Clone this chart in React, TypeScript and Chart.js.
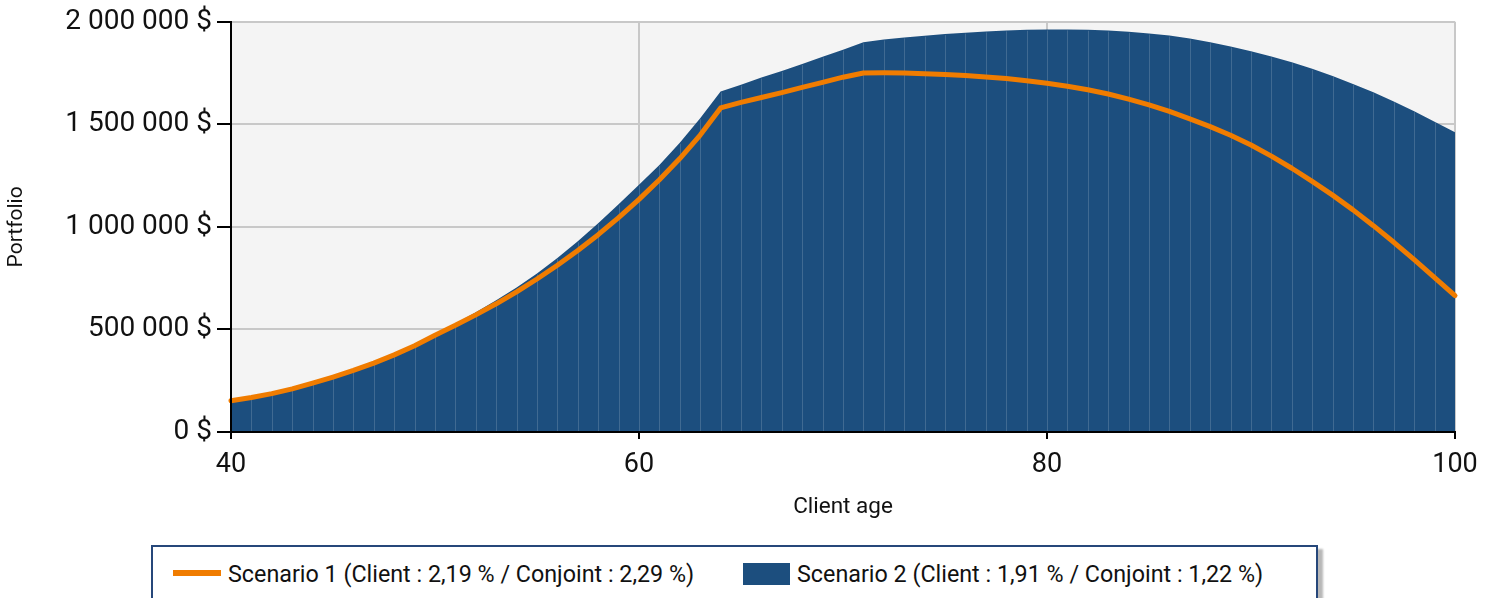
import React, { useEffect, useRef } from 'react';
import { Chart, registerables } from 'chart.js';

Chart.register(...registerables);

const ages = [
  40, 41, 42, 43, 44, 45, 46, 47, 48, 49,
  50, 51, 52, 53, 54, 55, 56, 57, 58, 59,
  60, 61, 62, 63, 64, 65, 66, 67, 68, 69,
  70, 71, 72, 73, 74, 75, 76, 77, 78, 79,
  80, 81, 82, 83, 84, 85, 86, 87, 88, 89,
  90, 91, 92, 93, 94, 95, 96, 97, 98, 99,
  100,
];

const scenario1 = [
  152000, 168000, 187000, 210000, 238000, 268000, 300000, 336000, 376000, 421000,
  472000, 520000, 571000, 625000, 683000, 746000, 813000, 885000, 962000, 1045000,
  1134000, 1230000, 1333000, 1448000, 1580000, 1607000, 1631000, 1655000, 1680000, 1705000,
  1730000, 1750000, 1751000, 1750000, 1747000, 1743000, 1738000, 1731000, 1723000, 1713000,
  1700000, 1686000, 1669000, 1648000, 1623000, 1595000, 1563000, 1527000, 1489000, 1447000,
  1399000, 1345000, 1286000, 1222000, 1155000, 1083000, 1006000, 925000, 840000, 753000,
  665000,
];

const scenario2 = [
  146000, 163000, 183000, 207000, 235000, 265000, 298000, 336000, 377000, 424000,
  477000, 529000, 584000, 642000, 705000, 773000, 848000, 930000, 1018000, 1110000,
  1205000, 1302000, 1410000, 1530000, 1660000, 1693000, 1728000, 1760000, 1794000, 1830000,
  1864000, 1900000, 1914000, 1924000, 1932000, 1940000, 1947000, 1953000, 1958000, 1961000,
  1963000, 1963000, 1961000, 1957000, 1951000, 1943000, 1933000, 1918000, 1900000, 1879000,
  1856000, 1831000, 1803000, 1771000, 1736000, 1697000, 1656000, 1612000, 1564000, 1513000,
  1461000,
];

const xTicks = [40, 60, 80, 100];
const yTicks = [0, 500000, 1000000, 1500000, 2000000];

const seriesLabels = [
  'Scenario 1 (Client : 2,19 % / Conjoint : 2,29 %)',
  'Scenario 2 (Client : 1,91 % / Conjoint : 1,22 %)',
];
const xTitle = 'Client age';
const yTitle = 'Portfolio';

const ORANGE = '#f07c00';
const BLUE = '#1c4e7e';
const FONT = 'Roboto, "Liberation Sans", Arial, sans-serif';

const fmtMoney = (v: number) =>
  String(Math.round(v)).replace(/\B(?=(\d{3})+(?!\d))/g, ' ') + ' $';

const bgPlugin = {
  id: 'plotBg',
  beforeDraw(chart: any) {
    const { ctx, chartArea } = chart;
    ctx.save();
    ctx.fillStyle = '#f4f4f4';
    ctx.fillRect(chartArea.left, chartArea.top, chartArea.right - chartArea.left, chartArea.bottom - chartArea.top);
    ctx.restore();
  },
};

const stripesPlugin = {
  id: 'stripes',
  afterDatasetDraw(chart: any, args: any) {
    if (args.index !== 0) return;
    const { ctx } = chart;
    const meta = args.meta;
    const base = chart.scales.y.getPixelForValue(0);
    ctx.save();
    ctx.strokeStyle = 'rgba(255,255,255,0.16)';
    ctx.lineWidth = 1;
    for (let i = 1; i < meta.data.length - 1; i++) {
      const p = meta.data[i];
      const x = Math.round(p.x) + 0.5;
      ctx.beginPath();
      ctx.moveTo(x, p.y + 1);
      ctx.lineTo(x, base);
      ctx.stroke();
    }
    ctx.restore();
  },
};

const axesPlugin = {
  id: 'axesOnTop',
  afterDatasetsDraw(chart: any) {
    const { ctx, chartArea } = chart;
    ctx.save();
    ctx.strokeStyle = '#000';
    ctx.lineWidth = 2;
    ctx.beginPath();
    ctx.moveTo(chartArea.left, chartArea.top);
    ctx.lineTo(chartArea.left, chartArea.bottom + 1);
    ctx.moveTo(chartArea.left - 1, chartArea.bottom);
    ctx.lineTo(chartArea.right, chartArea.bottom);
    ctx.stroke();
    ctx.restore();
  },
};

function ChartView() {
  const ref = useRef<HTMLCanvasElement | null>(null);
  useEffect(() => {
    if (!ref.current) return;
    const chart = new Chart(ref.current, {
      type: 'line',
      data: {
        datasets: [
          {
            label: seriesLabels[1],
            data: ages.map((a, i) => ({ x: a, y: scenario2[i] })),
            borderWidth: 0,
            borderColor: BLUE,
            backgroundColor: BLUE,
            fill: 'origin',
            pointRadius: 0,
            tension: 0,
            order: 2,
          },
          {
            label: seriesLabels[0],
            data: ages.map((a, i) => ({ x: a, y: scenario1[i] })),
            borderWidth: 5,
            borderColor: ORANGE,
            backgroundColor: ORANGE,
            fill: false,
            pointRadius: 0,
            tension: 0,
            borderCapStyle: 'round',
            borderJoinStyle: 'round',
            clip: false,
            order: 1,
          },
        ] as any,
      },
      options: {
        responsive: false,
        animation: false,
        layout: { padding: { top: 20, right: 39, left: 0, bottom: 0 } },
        plugins: { legend: { display: false }, tooltip: { enabled: false } },
        scales: {
          x: {
            type: 'linear',
            min: 40,
            max: 100,
            afterFit: (s: any) => { s.height = 113; },
            afterBuildTicks: (s: any) => { s.ticks = xTicks.map((v) => ({ value: v })); },
            ticks: { font: { family: FONT, size: 27 }, color: '#111', padding: 10, maxRotation: 0 },
            grid: { color: '#c8c8c8', lineWidth: 2, tickColor: '#000', tickLength: 7, tickWidth: 2 },
            border: { color: '#000', width: 2 },
            title: { display: true, text: xTitle, font: { family: FONT, size: 22.5 }, color: '#111', padding: { top: 0, bottom: 24 } },
          },
          y: {
            type: 'linear',
            min: 0,
            max: 2000000,
            afterFit: (s: any) => { s.width = 231; },
            afterBuildTicks: (s: any) => { s.ticks = yTicks.map((v) => ({ value: v })); },
            ticks: { callback: (v: any) => fmtMoney(Number(v)), font: { family: FONT, size: 28 }, color: '#111', padding: 5 },
            grid: { color: '#c8c8c8', lineWidth: 2, tickColor: '#000', tickLength: 14, tickWidth: 2 },
            border: { color: '#000', width: 2 },
            title: { display: true, text: yTitle, font: { family: FONT, size: 21 }, color: '#111', padding: { top: 4, bottom: 0 } },
          },
        },
      } as any,
      plugins: [bgPlugin, stripesPlugin, axesPlugin],
    });
    return () => chart.destroy();
  }, []);
  return <canvas ref={ref} width={1494} height={545} style={{ display: 'block' }} />;
}

export default function App() {
  const textStyle: React.CSSProperties = {
    position: 'absolute',
    fontFamily: FONT,
    fontSize: 23.3,
    lineHeight: '24px',
    color: '#111',
    whiteSpace: 'nowrap',
  };
  return (
    <div style={{ position: 'fixed', left: 0, top: 0, width: 1494, height: 598, background: '#fff', overflow: 'hidden' }}>
      <ChartView />
      <div
        style={{
          position: 'absolute',
          left: 151,
          top: 545,
          width: 1167,
          height: 90,
          border: '2px solid #26477a',
          boxSizing: 'border-box',
          boxShadow: '5px 4px 2px rgba(0,0,0,0.28)',
          background: '#fff',
        }}
      />
      <div style={{ position: 'absolute', left: 173, top: 570, width: 48, height: 6, background: ORANGE }} />
      <div style={{ ...textStyle, left: 228, top: 562 }}>{seriesLabels[0]}</div>
      <div style={{ position: 'absolute', left: 743, top: 563, width: 47, height: 22, background: BLUE }} />
      <div style={{ ...textStyle, left: 797, top: 562 }}>{seriesLabels[1]}</div>
    </div>
  );
}
